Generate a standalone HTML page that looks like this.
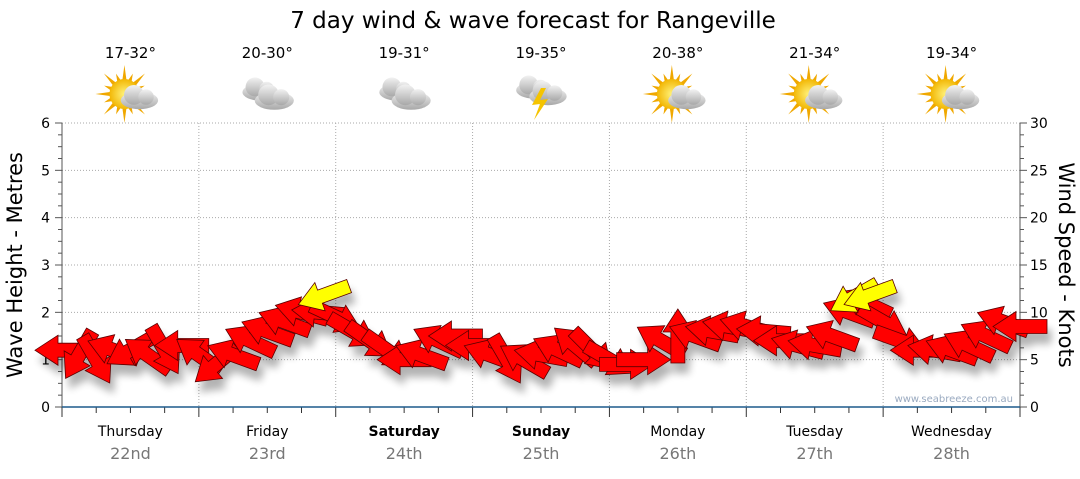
<!DOCTYPE html>
<html><head><meta charset="utf-8">
<style>
html,body{margin:0;padding:0;background:#fff;}
body{width:1080px;height:475px;overflow:hidden;font-family:"DejaVu Sans","Liberation Sans",sans-serif;}
svg text{font-family:"DejaVu Sans","Liberation Sans",sans-serif;}
</style></head>
<body>
<svg id="chart" width="1080" height="475" viewBox="0 0 1080 475" xmlns="http://www.w3.org/2000/svg">
<defs>
<filter id="shadow" x="-50%" y="-50%" width="200%" height="200%">
<feGaussianBlur in="SourceAlpha" stdDeviation="4"/>
<feOffset dx="4" dy="10" result="b"/>
<feComponentTransfer><feFuncA type="linear" slope="0.3"/></feComponentTransfer>
<feMerge><feMergeNode/><feMergeNode in="SourceGraphic"/></feMerge>
</filter>
<radialGradient id="sunG" cx="0.5" cy="0.5" r="0.5"><stop offset="0" stop-color="#fff27a"/><stop offset="1" stop-color="#f2b705"/></radialGradient>
<linearGradient id="cloudG" x1="0" y1="0" x2="0" y2="1"><stop offset="0" stop-color="#f2f2f2"/><stop offset="1" stop-color="#a8a8a8"/></linearGradient>
</defs>
<text x="533" y="28" font-size="23" text-anchor="middle" fill="#000">7 day wind &amp; wave forecast for Rangeville</text>
<g id="grid"></g>
<g id="axes"></g>
<g id="days"></g>
<g id="weather"></g>
<g id="arrows" filter="url(#shadow)"></g>
<text x="1013" y="402" font-size="10" text-anchor="end" fill="#9aaac0">www.seabreeze.com.au</text>
<text transform="translate(22,265) rotate(-90)" font-size="21" text-anchor="middle" fill="#000">Wave Height - Metres</text>
<text transform="translate(1059,265) rotate(90)" font-size="21" text-anchor="middle" fill="#000">Wind Speed - Knots</text>
</svg>
<script>
const dayNames = ["Thursday","Friday","Saturday","Sunday","Monday","Tuesday","Wednesday"];
const dayDates = ["22nd","23rd","24th","25th","26th","27th","28th"];
const dayBold = [false,false,true,true,false,false,false];
const tempRanges = ["17-32°","20-30°","19-31°","19-35°","20-38°","21-34°","19-34°"];
const weatherType = ["sun","cloud","cloud","storm","sun","sun","sun"];
const waveTicks = [0,1,2,3,4,5,6];
const windTicks = [0,5,10,15,20,25,30];
// wind speed (knots) every 3 hours, 57 points
const windSpeed = [6,5.5,5,6,6,5.5,6,6.5,5.5,4.5,5.5,7,8,9,10,10,9.5,8,7,6,5,5.5,7,7.5,6.5,5.5,5,5,5.5,6,6.5,6,5,4.5,5,7,7.5,7.5,8,8.5,8.5,8,7,6.5,6.5,7.5,10,11,9,7,6,6,6,6.5,7.5,9,8.5];
// direction arrow points (degrees, 180 = pointing left, clockwise screen)
const windDir = [180,120,60,200,150,215,60,180,215,140,200,205,200,200,195,185,25,30,35,35,180,200,205,180,180,200,60,210,190,205,220,45,30,0,0,210,270,200,190,190,195,185,180,195,190,200,200,205,30,20,180,190,200,205,205,200,180];
// yellow (strong gust) arrows
const gustIndex = [15.3,46.3,47.2];
const gustSpeed = [11.8,11.6,11.8];
const gustDir = [160,150,160];

const NS='http://www.w3.org/2000/svg';
const X0=62,X1=1020,Y0=407,Y6=123;
const xScale=i=>X0+i*(X1-X0)/56;
const yWave=v=>Y0-v*(Y0-Y6)/6;
const yWind=k=>Y0-k*(Y0-Y6)/30;
function mk(tag,attrs,parent){const e=document.createElementNS(NS,tag);for(const k in attrs)e.setAttribute(k,attrs[k]);parent.appendChild(e);return e;}
const grid=document.getElementById('grid'),axes=document.getElementById('axes'),days=document.getElementById('days'),weather=document.getElementById('weather'),arrows=document.getElementById('arrows');

waveTicks.forEach(v=>{
  if(v>0){const l=mk('line',{x1:X0,x2:X1,y1:yWave(v),y2:yWave(v),stroke:'#aaa','stroke-dasharray':'1,2'},grid);
  
  }
  const t=mk('text',{x:X0-12,y:yWave(v)+5,'font-size':14,'text-anchor':'end',fill:'#000'},axes);t.textContent=v;
  
  
});
windTicks.forEach(k=>{
  const t=mk('text',{x:X1+10,y:yWind(k)+5,'font-size':14,'text-anchor':'start',fill:'#000'},axes);t.textContent=k;
  
  
});
for(let m=0;m<=24;m++){const y=Y0-m*(Y0-Y6)/24;const w=m%4===0?7:4;
  mk('line',{x1:X0-w,x2:X0,y1:y,y2:y,stroke:'#555'},axes);
  mk('line',{x1:X1,x2:X1+w,y1:y,y2:y,stroke:'#555'},axes);}
mk('line',{x1:X0,x2:X0,y1:Y6,y2:Y0,stroke:'#555'},axes);
mk('line',{x1:X1,x2:X1,y1:Y6,y2:Y0,stroke:'#555'},axes);
for(let d=0;d<=7;d++){const x=X0+d*(X1-X0)/7;
  if(d>0&&d<7){const l=mk('line',{x1:x,x2:x,y1:Y6,y2:Y0,stroke:'#aaa','stroke-dasharray':'1,2'},grid);
  
  }}
for(let q=0;q<=28;q++){const x=X0+q*(X1-X0)/28;mk('line',{x1:x,x2:x,y1:Y0,y2:Y0+(q%4===0?10:6),stroke:'#333'},axes);}
mk('line',{x1:X0,x2:X1,y1:Y0,y2:Y0,stroke:'#1d5a8c','stroke-width':1.5},axes);

function sun(g,cx,cy){
  for(let a=0;a<16;a++){const r=a%2?22:29,an=a*Math.PI/8;
    mk('polygon',{points:`${cx+Math.cos(an)*r},${cy+Math.sin(an)*r} ${cx+Math.cos(an+0.17)*13},${cy+Math.sin(an+0.17)*13} ${cx+Math.cos(an-0.17)*13},${cy+Math.sin(an-0.17)*13}`,fill:'#f0a800'},g);}
  mk('circle',{cx:cx,cy:cy,r:15,fill:'url(#sunG)'},g);
}
function cloud(g,cx,cy,s){
  mk('ellipse',{cx:cx,cy:cy+4*s,rx:17*s,ry:8*s,fill:'url(#cloudG)'},g);
  mk('circle',{cx:cx-5*s,cy:cy-1*s,r:9*s,fill:'url(#cloudG)'},g);
  mk('circle',{cx:cx+6*s,cy:cy+1*s,r:7*s,fill:'url(#cloudG)'},g);
}
for(let d=0;d<7;d++){
  const cx=X0+(d+0.5)*(X1-X0)/7;
  const t=mk('text',{x:cx,y:58,'font-size':15,'text-anchor':'middle',fill:'#000'},weather);t.textContent=tempRanges[d];
  
  
  const g=mk('g',{},weather);
  
  
  if(weatherType[d]==='sun'){sun(g,cx-6,94);cloud(g,cx+9,96,1.1);}
  else if(weatherType[d]==='cloud'){cloud(g,cx-7,88,1.05);cloud(g,cx+7,96,1.15);}
  else{cloud(g,cx-7,86,1.05);cloud(g,cx+7,92,1.1);
    mk('polygon',{points:`${cx},${88} ${cx-9},${105} ${cx-1},${104} ${cx-7},${120} ${cx+7},${99} ${cx-1},${100} ${cx+5},${88}`,fill:'#f5c400'},g);}
  const n=mk('text',{x:cx,y:436,'font-size':14,'text-anchor':'middle',fill:'#000','font-weight':dayBold[d]?'bold':'normal'},days);n.textContent=dayNames[d];
  
  
  const dt=mk('text',{x:cx,y:459,'font-size':16,'text-anchor':'middle',fill:'#777'},days);dt.textContent=dayDates[d];
  
  
}
function arrow(x,y,ang,fill){
  const p=mk('polygon',{points:'-27,-7 4,-7 4,-15 27,0 4,15 4,7 -27,7',fill:fill,stroke:'#5a0000','stroke-width':0.8,transform:`translate(${x},${y}) rotate(${ang})`},arrows);
  return p;
}
windSpeed.forEach((k,i)=>{
  const a=arrow(xScale(i),yWind(k),windDir[i],'#ff0000');
  
  
});
gustIndex.forEach((i,j)=>{
  const a=arrow(xScale(i),yWind(gustSpeed[j]),gustDir[j],'#ffff00');
  
  
});
</script>
</body></html>
